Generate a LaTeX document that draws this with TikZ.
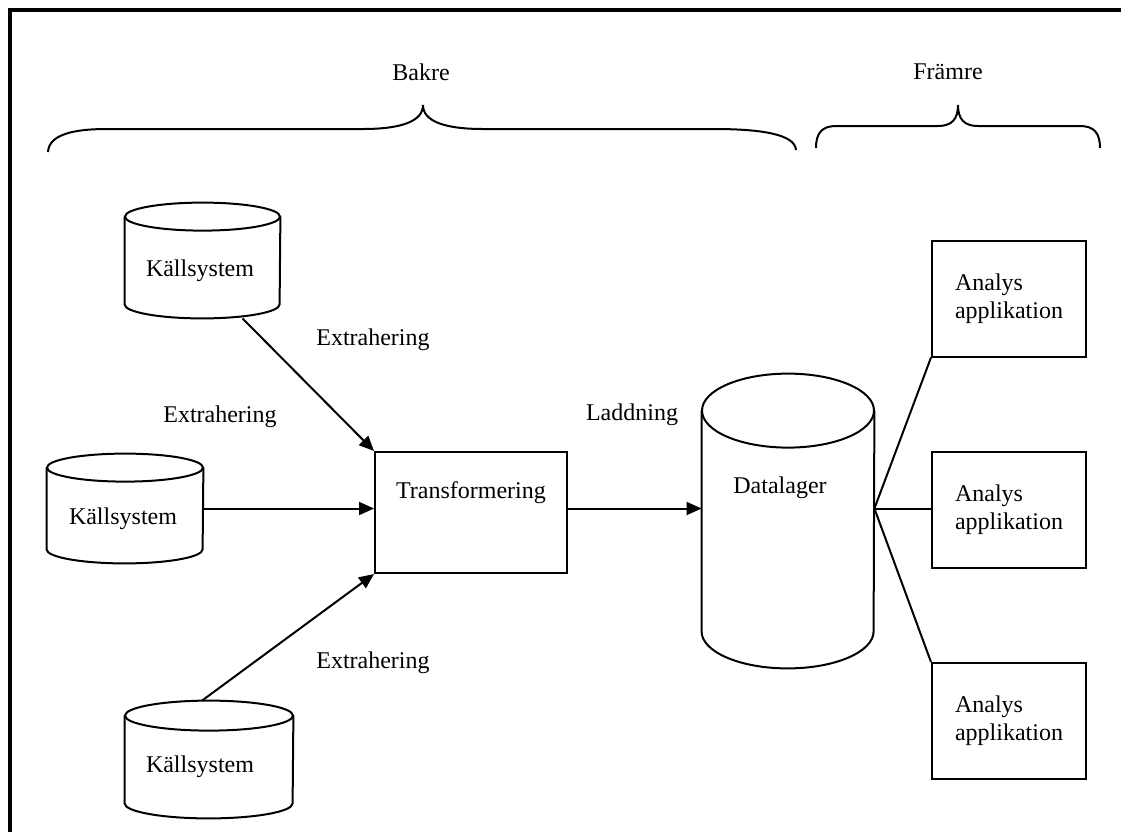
\documentclass[tikz,border=0pt]{standalone}
\usepackage{fontspec}
\setmainfont{Liberation Serif}
\usetikzlibrary{arrows.meta,calc}

\begin{document}
\begin{tikzpicture}[x=0.5pt,y=-0.5pt,
    every node/.style={font=\fontsize{12}{14}\selectfont},
    linje/.style={line width=1pt},
    pil/.style={linje,-{Triangle[length=7.5pt,width=6.5pt]}},
    kalla/.style={rectangle,inner sep=0pt,minimum width=77.5pt,minimum height=57.5pt},
    ruta/.style={draw,linje,rectangle,inner sep=0pt,minimum width=77pt,minimum height=58pt,
      align=left}]
  \useasboundingbox (0,0) rectangle (1121,832);
  % ram
  \draw[line width=2pt] (10,832) -- (10,10) -- (1121,10);
  % klamrar
  \draw[line width=1pt] (48,152) .. controls (49,135) and (72,129) .. (107,129) -- (363,129)
    .. controls (402,129) and (423,121) .. (423,105) .. controls (423,121) and (444,129) .. (483,129)
    -- (714,129) .. controls (760,129) and (795,134) .. (796,150);
  \draw[line width=1pt] (816,148) .. controls (816,133) and (822,126) .. (836,126) -- (938,126)
    .. controls (952,126) and (958,119) .. (958,105) .. controls (958,119) and (964,126) .. (978,126)
    -- (1080,126) .. controls (1094,126) and (1100,133) .. (1100,148);
  \node (bakre) at (421,72) {Bakre};
  \node (framre) at (948,72) {Främre};
  % källor
  \node[kalla,label={[xshift=-1.25pt,yshift=-5pt]center:Källsystem}] (k1) at (202.5,260.5) {};
  \node[kalla,minimum width=78pt,minimum height=54.5pt,
    label={[xshift=-1pt,yshift=-5.25pt]center:Källsystem}] (k2) at (125,508.5) {};
  \node[kalla,minimum width=84pt,minimum height=58.5pt,
    label={[xshift=-4.5pt,yshift=-3.75pt]center:Källsystem}] (k3) at (209,759.5) {};
  % transformering och datalager
  \node[ruta,minimum width=96pt,minimum height=60.5pt,
    label={[yshift=10pt]center:Transformering}] (tr) at (471,512.5) {};
  \node[kalla,minimum width=86pt,minimum height=147pt,
    label={[xshift=-4pt,yshift=16.5pt]center:Datalager}] (dw) at (788,521) {};
  % cylindrar
  \foreach \n/\b/\r in {k1/77.5/14,k2/78/14,k3/84/15,dw/86/37}{
    \draw[linje] ($(\n.north)+(0,\r)$) ellipse [x radius=\b, y radius=\r];
    \draw[linje] ($(\n.north west)+(0,\r)$) -- ($(\n.south west)+(0,-\r)$)
      arc [start angle=180, end angle=0, x radius=\b, y radius=\r]
      -- ($(\n.north east)+(0,\r)$);
  }
  % analysapplikationer
  \node[ruta] (a1) at (1009,298.5) {Analys\\applikation};
  \node[ruta] (a2) at (1009,510) {Analys\\applikation};
  \node[ruta] (a3) at (1009,721) {Analys\\applikation};
  % pilar
  \draw[pil] ([xshift=20pt]k1.south) -- (tr.north west);
  \draw[pil] (k2.east) -- (k2.east -| tr.west);
  \draw[pil] ([xshift=-3.5pt]k3.north) -- (tr.south west);
  \draw[pil] (tr.east |- k2.east) -- (k2.east -| dw.west);
  \coordinate (ut) at (k2.east -| dw.east);
  \draw[linje] (ut) -- (a1.south west);
  \draw[linje] (ut) -- (ut -| a2.west);
  \draw[linje] (ut) -- (a3.north west);
  % etiketter
  \node (ex1) at (373,340) {Extrahering};
  \node (ex2) at (220,417) {Extrahering};
  \node (ex3) at (373,663) {Extrahering};
  \node (ladd) at (632,415) {Laddning};
\end{tikzpicture}
\end{document}
